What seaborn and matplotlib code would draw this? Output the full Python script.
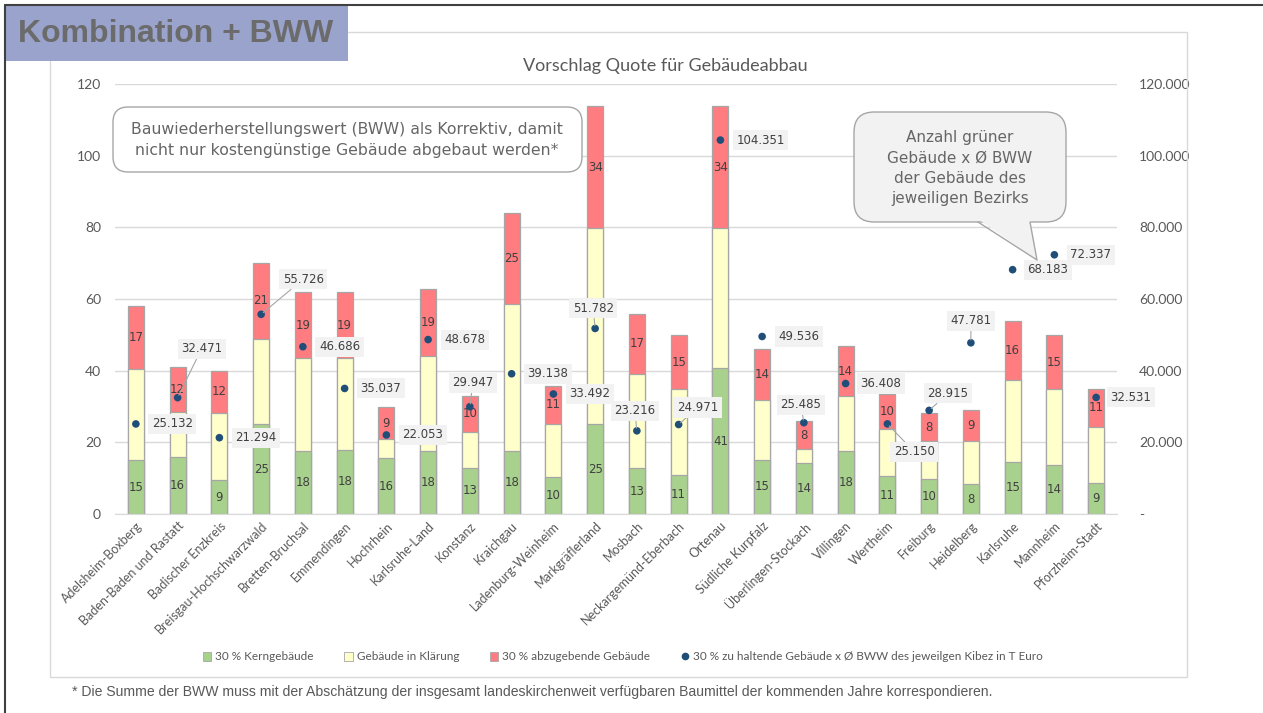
import numpy as np
import matplotlib
matplotlib.use("Agg")
import matplotlib.pyplot as plt
import seaborn as sns
from matplotlib.patches import Rectangle, FancyBboxPatch, Patch, Polygon
from matplotlib.lines import Line2D
from matplotlib.ticker import FuncFormatter

# Daten
bezirke = ['Adelsheim-Boxberg', 'Baden-Baden und Rastatt', 'Badischer Enzkreis',
           'Breisgau-Hochschwarzwald', 'Bretten-Bruchsal', 'Emmendingen', 'Hochrhein',
           'Karlsruhe-Land', 'Konstanz', 'Kraichgau', 'Ladenburg-Weinheim',
           'Markgräflerland', 'Mosbach', 'Neckargemünd-Eberbach', 'Ortenau',
           'Südliche Kurpfalz', 'Überlingen-Stockach', 'Villingen', 'Wertheim',
           'Freiburg', 'Heidelberg', 'Karlsruhe', 'Mannheim', 'Pforzheim-Stadt']
kern = [15.0, 15.8, 9.4, 25.0, 17.6, 17.9, 15.6, 17.7, 12.9, 17.7, 10.3, 25.0,
        12.7, 10.8, 40.7, 15.1, 14.1, 17.7, 10.6, 9.8, 8.3, 14.6, 13.7, 8.6]
klaerung = [25.6, 12.8, 18.7, 23.9, 25.8, 25.5, 5.2, 26.3, 10.1, 41.0, 14.8, 54.7,
            26.5, 24.1, 39.0, 16.8, 4.0, 15.1, 13.1, 10.5, 12.0, 22.9, 21.2, 15.7]
abgabe = [17.4, 12.4, 11.9, 21.1, 18.6, 18.6, 9.1, 18.8, 10.0, 25.2, 10.7, 34.2,
          16.7, 15.0, 34.2, 14.1, 7.8, 14.0, 9.8, 7.8, 8.6, 16.4, 15.0, 10.7]
bww = [25132, 32471, 21294, 55726, 46686, 35037, 22053, 48678, 29947, 39138, 33492,
       51782, 23216, 24971, 104351, 49536, 25485, 36408, 25150, 28915, 47781,
       68183, 72337, 32531]

# Lage der Datenbeschriftungen (Pixel relativ zum Punkt, Leitlinie ja/nein)
label_pos = [(16, 0, False), (24, 49, True), (16, 0, False), (42, 35, True),
             (16, 0, False), (16, 0, False), (16, 0, False), (16, 0, False),
             (3, 24, True), (16, 0, False), (16, 0, False), (-2, 20, True),
             (-2, 20, True), (19, 17, True), (16, 0, False), (16, 0, False),
             (-3, 18, True), (15, 0, False), (27, -28, True), (19, 17, True),
             (0, 22, True), (15, 0, False), (16, 0, False), (14, 0, False)]

GREEN, YELLOW, RED, DOT = '#A9D18E', '#FFFFCC', '#FF7C80', '#1F4E79'
EDGE = '#A6A6A6'
TXT = '#595959'

W, H = 1263, 713
def fx(px): return px / W
def fy(py): return 1 - py / H

sns.set_style("white")
plt.rcParams['font.family'] = ['Lato', 'DejaVu Sans']

fig = plt.figure(figsize=(W / 100, H / 100), dpi=100)
ax = fig.add_axes([fx(115), fy(514), fx(1117) - fx(115), fy(84) - fy(514)])

k = np.array(kern)
g = k + np.array(klaerung)
t = g + np.array(abgabe)

# gestapelte Säulen: Gesamt, dann Kern+Klärung, dann Kern drüber
for vals, col in [(t, RED), (g, YELLOW), (k, GREEN)]:
    sns.barplot(x=bezirke, y=vals, color=col, width=0.38, edgecolor=EDGE,
                linewidth=0.9, errorbar=None, saturation=1, ax=ax, zorder=2)

x = np.arange(len(bezirke))
for i in x:
    ax.text(i, k[i] / 2, f"{kern[i]:.0f}", ha='center', va='center', fontsize=8.5,
            color='#404040', family='DejaVu Sans', zorder=3)
    ax.text(i, g[i] + abgabe[i] / 2, f"{abgabe[i]:.0f}", ha='center', va='center',
            fontsize=8.5, color='#404040', family='DejaVu Sans', zorder=3)

ax.set_xlim(-0.5, len(bezirke) - 0.5)
ax.set_ylim(0, 120)
ax.set_yticks(range(0, 121, 20))
ax.yaxis.grid(True, color='#D9D9D9', lw=1)
ax.set_axisbelow(True)
for s in ['top', 'left', 'right']:
    ax.spines[s].set_visible(False)
ax.spines['bottom'].set_color('#D9D9D9')
ax.tick_params(axis='y', length=0, pad=10, labelsize=10, labelcolor=TXT)
ax.tick_params(axis='x', length=0, pad=4, labelsize=9, labelcolor=TXT)
plt.setp(ax.get_xticklabels(), rotation=45, ha='right', rotation_mode='anchor')
ax.set_xlabel('')
ax.set_ylabel('')

# Sekundärachse mit BWW
ax2 = ax.twinx()
sns.scatterplot(x=x, y=bww, color=DOT, s=30, edgecolor='none', ax=ax2, zorder=4)
ax2.set_ylim(0, 120000)
ax2.set_yticks(range(0, 120001, 20000))
ax2.yaxis.set_major_formatter(FuncFormatter(
    lambda v, p: '-' if v == 0 else f"{v:,.0f}".replace(',', '.')))
ax2.tick_params(axis='y', length=0, pad=16, labelsize=10, labelcolor=TXT)
for s in ax2.spines.values():
    s.set_visible(False)
ax2.set_ylabel('')

for i, (dx, dy, lead) in enumerate(label_pos):
    txt = f"{bww[i]:,.0f}".replace(',', '.')
    kw = dict(textcoords='offset pixels', fontsize=8.5, color='#404040',
              family='DejaVu Sans', va='center', zorder=5,
              bbox=dict(boxstyle='square,pad=0.3', fc='#F2F2F2', ec='none'))
    if lead:
        ax2.annotate(txt, (i, bww[i]), xytext=(dx, dy), ha='center',
                     arrowprops=dict(arrowstyle='-', color=EDGE, lw=0.8,
                                     shrinkA=0, shrinkB=2), **kw)
    else:
        ax2.annotate(txt, (i, bww[i]), xytext=(dx, dy), ha='left', **kw)

# Titel
fig.text(fx(665), fy(66), 'Vorschlag Quote für Gebäudeabbau', ha='center',
         va='center', fontsize=13, color=TXT)

# Legende
handles = [Patch(fc=GREEN, ec=EDGE, lw=0.6), Patch(fc=YELLOW, ec=EDGE, lw=0.6),
           Patch(fc=RED, ec=EDGE, lw=0.6),
           Line2D([], [], marker='o', ls='', color=DOT, markersize=4.5)]
labels = ['30 % Kerngebäude', 'Gebäude in Klärung', '30 % abzugebende Gebäude',
          '30 % zu haltende Gebäude x Ø BWW des jeweilgen Kibez in T Euro']
leg = fig.legend(handles, labels, loc='center', bbox_to_anchor=(fx(623), fy(657)),
                 ncol=4, frameon=False, fontsize=8.5, handlelength=0.7,
                 handleheight=0.7, handletextpad=0.35, columnspacing=2.6)
for tx in leg.get_texts():
    tx.set_color(TXT)

# Rahmen der Grafik und der Folie
fig.patches.append(Rectangle((fx(50), fy(677)), fx(1187) - fx(50), fy(32) - fy(677),
                             transform=fig.transFigure, fill=False, ec='#D9D9D9', lw=1))
fig.add_artist(Line2D([fx(5), 1], [fy(5), fy(5)], color='#404040', lw=1.5))
fig.add_artist(Line2D([fx(5), fx(5)], [fy(5), 0], color='#404040', lw=1.5))

# Überschrift
fig.patches.append(Rectangle((fx(5), fy(61)), fx(348) - fx(5), fy(5) - fy(61),
                             transform=fig.transFigure, fc='#99A3CC', ec='none'))
fig.text(fx(18), fy(34), 'Kombination + BWW', ha='left', va='center', fontsize=23,
         fontweight='bold', color='#6B6B6B', family='Liberation Sans')

# Hinweisboxen
fig.patches.append(FancyBboxPatch((fx(113), fy(172)), fx(582) - fx(113), fy(107) - fy(172),
                                  boxstyle='round,pad=0,rounding_size=0.012',
                                  transform=fig.transFigure, fc='white', ec=EDGE, lw=1,
                                  mutation_aspect=W / H, zorder=6))
fig.text(fx(347), fy(140), 'Bauwiederherstellungswert (BWW) als Korrektiv, damit\n'
         'nicht nur kostengünstige Gebäude abgebaut werden*', ha='center', va='center',
         fontsize=11.3, color='#666666', family='DejaVu Sans', linespacing=1.55, zorder=7)

fig.patches.append(FancyBboxPatch((fx(854), fy(222)), fx(1066) - fx(854), fy(112) - fy(222),
                                  boxstyle='round,pad=0,rounding_size=0.016',
                                  transform=fig.transFigure, fc='#F2F2F2', ec=EDGE, lw=1,
                                  mutation_aspect=W / H, zorder=6))
fig.patches.append(Polygon([(fx(978), fy(219)), (fx(1030), fy(219)), (fx(1037), fy(260))],
                           transform=fig.transFigure, fc='#F2F2F2', ec='none', zorder=7))
fig.add_artist(Line2D([fx(978), fx(1037), fx(1030)], [fy(222), fy(260), fy(222)],
                      color=EDGE, lw=1, zorder=8))
fig.text(fx(960), fy(168), 'Anzahl grüner\nGebäude x Ø BWW\nder Gebäude des\njeweiligen Bezirks',
         ha='center', va='center', fontsize=11, color='#666666', family='DejaVu Sans',
         linespacing=1.42, zorder=8)

# Fußnote
fig.text(fx(72), fy(692), '* Die Summe der BWW muss mit der Abschätzung der insgesamt '
         'landeskirchenweit verfügbaren Baumittel der kommenden Jahre korrespondieren.',
         ha='left', va='center', fontsize=10.1, color=TXT, family='Liberation Sans')

fig.savefig('out.png', dpi=100)
